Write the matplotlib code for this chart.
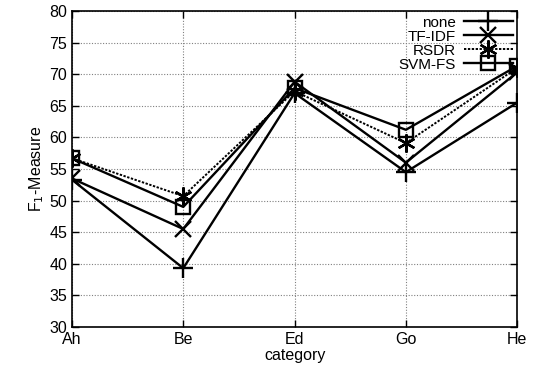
import matplotlib
matplotlib.use("Agg")
import matplotlib.pyplot as plt

# datos
categories = ["Ah", "Be", "Ed", "Go", "He"]
none_vals = [53.3, 39.3, 67.0, 54.5, 65.5]
tfidf_vals = [53.5, 45.5, 68.8, 56.0, 70.3]
rsdr_vals = [56.7, 50.7, 67.3, 59.1, 71.0]
svmfs_vals = [56.7, 49.0, 67.8, 61.2, 71.3]

plt.rcParams['font.family'] = ['Liberation Sans', 'DejaVu Sans']

fig = plt.figure(figsize=(5.41, 3.78), dpi=100)
ax = fig.add_axes([0.133, 0.135, 0.823, 0.836])

x = range(len(categories))
ax.plot(x, none_vals, color='black', lw=1.7, marker='+', ms=14, mew=1.7, label='none')
ax.plot(x, tfidf_vals, color='black', lw=1.7, marker='x', ms=12, mew=1.7, label='TF-IDF')
ax.plot(x, rsdr_vals, color='black', lw=1.4, ls=(0, (1.2, 0.8)), marker=(6, 2, 0), ms=13, mew=1.7,
        label='RSDR')
ax.plot(x, svmfs_vals, color='black', lw=1.7, marker='s', ms=10, mew=1.7, mfc='none', label='SVM-FS')

ax.set_xlim(0, 4)
ax.set_ylim(30, 80)
ax.set_xticks(list(x))
ax.set_xticklabels(categories)
ax.set_yticks(range(30, 81, 5))
ax.tick_params(direction='in', length=5, width=1, labelsize=11.5, top=True, right=True)
ax.grid(True, color='gray', ls=(0, (1, 1.5)), lw=0.8)
for s in ax.spines.values():
    s.set_linewidth(1.2)

ax.set_xlabel("category", fontsize=11.5, labelpad=1)
ax.set_ylabel("F$_1$-Measure", fontsize=11.5, labelpad=2)

leg = ax.legend(loc='upper right', markerfirst=False, frameon=False, fontsize=11,
                handlelength=3.2, labelspacing=0.0, borderaxespad=0.1, handletextpad=0.5,
                borderpad=0.2)

fig.savefig("out.png", dpi=100)
